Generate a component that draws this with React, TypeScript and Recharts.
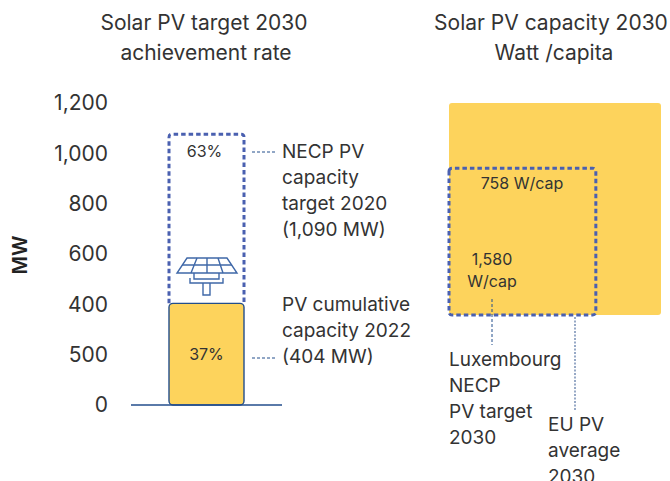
import React from 'react';
import { BarChart, Bar, XAxis, YAxis, LabelList, ComposedChart, ReferenceArea, Rectangle } from 'recharts';

const FONT = 'Inter, sans-serif';
const TEXT = '#333333';
const YELLOW = '#FDD35C';
const NAVY = '#234E8C';
const DASH = '#4A60B0';

const categories = ['Luxembourg'];
const cumulative2022 = [404];
const remainingToTarget = [672];
const shareLabels = ['37%', '63%'];
const yTicks = [0, 200, 400, 600, 800, 1000, 1200];
const yTickLabels = ['0', '500', '400', '600', '800', '1,000', '1,200'];
const targetNote = ['NECP PV', 'capacity', 'target 2020', '(1,090 MW)'];
const cumulativeNote = ['PV cumulative', 'capacity 2022', '(404 MW)'];

// square sides, areas are W/cap
const wattLabels = ['1,580', 'W/cap'];
const euWatt = 1580;
const luWatt = 758;
const luNote = ['Luxembourg', 'NECP', 'PV target', '2030'];
const euNote = ['EU PV', 'average', '2030'];

const data = categories.map((name, i) => ({
  name,
  cumulative: cumulative2022[i],
  remaining: remainingToTarget[i],
}));

function TargetShape(props: any) {
  const { x, y, width, height } = props;
  const r = 3;
  const d = `M${x},${y + height} V${y + r} Q${x},${y} ${x + r},${y} H${x + width - r} Q${x + width},${y} ${x + width},${y + r} V${y + height}`;
  return <path d={d} fill="none" stroke={DASH} strokeWidth={3} strokeDasharray="4.5 3" />;
}

function RoundedSquare(props: any) {
  return <Rectangle {...props} radius={3} />;
}

function Lines({ x, y, lines, step, size = 19 }: { x: number; y: number; lines: string[]; step: number; size?: number }) {
  return (
    <text x={x} y={y} fontFamily={FONT} fontSize={size} fill={TEXT}>
      {lines.map((l, i) => (
        <tspan key={l} x={x} y={y + i * step}>{l}</tspan>
      ))}
    </text>
  );
}

function SolarIcon() {
  const s = { fill: 'none', stroke: '#3F68A8', strokeWidth: 1.4 };
  return (
    <g {...s}>
      <path d="M187,258 H227 L237,273 H177 Z" />
      <path d="M182,265 H232 M197,258 L191,273 M207,258 V273 M218,258 L223,273" />
      <path d="M194,273 V279 H219 V273" />
      <path d="M190,278 V283 H223 V278" />
      <path d="M203,283 V295 H210 V283" />
    </g>
  );
}

export default function App() {
  return (
    <div style={{ position: 'absolute', left: 0, top: 0, width: 670, height: 481, overflow: 'hidden', background: '#fff', fontFamily: FONT }}>
      <div style={{ position: 'absolute', left: 0, top: 0 }}>
        <BarChart width={430} height={481} data={data} margin={{ top: 103, right: 148, bottom: 75, left: 71 }}>
          <XAxis dataKey="name" height={1} tick={false} tickLine={false} axisLine={{ stroke: NAVY, strokeWidth: 1.4 }} />
          <YAxis
            width={60}
            domain={[0, 1200]}
            ticks={yTicks}
            tickFormatter={(v: number) => yTickLabels[yTicks.indexOf(v)]}
            tick={{ fontSize: 21, fill: TEXT, fontFamily: FONT }}
            tickLine={false}
            axisLine={false}
            tickMargin={17}
            interval={0}
          />
          <Bar dataKey="cumulative" stackId="a" barSize={75} fill={YELLOW} stroke={NAVY} strokeWidth={1.4} radius={4} isAnimationActive={false}>
            <LabelList content={(p: any) => (
              <text x={p.x + p.width / 2} y={p.y + p.height / 2 + 6} textAnchor="middle" fontSize={16} fontFamily={FONT} fill={TEXT}>{shareLabels[0]}</text>
            )} />
          </Bar>
          <Bar dataKey="remaining" stackId="a" barSize={75} shape={TargetShape} isAnimationActive={false}>
            <LabelList content={(p: any) => (
              <text x={p.x + p.width / 2 - 2} y={p.y + 23} textAnchor="middle" fontSize={16} fontFamily={FONT} fill={TEXT}>{shareLabels[1]}</text>
            )} />
          </Bar>
          <SolarIcon />
          <text x={27} y={255} transform="rotate(-90 27 255)" textAnchor="middle" fontSize={20} fontWeight={600} fontFamily={FONT} fill="#222">MW</text>
          <text x={204} y={30} textAnchor="middle" fontSize={21} fontFamily={FONT} fill={TEXT}>Solar PV target 2030</text>
          <text x={206} y={60} textAnchor="middle" fontSize={21} fontFamily={FONT} fill={TEXT}>achievement rate</text>
          <line x1={252} x2={276} y1={152} y2={152} stroke={NAVY} strokeWidth={1} strokeDasharray="3 2" />
          <line x1={252} x2={276} y1={358} y2={358} stroke={NAVY} strokeWidth={1} strokeDasharray="3 2" />
          <Lines x={282} y={158} lines={targetNote} step={26} />
          <Lines x={282} y={311} lines={cumulativeNote} step={26} />
        </BarChart>
      </div>
      <div style={{ position: 'absolute', left: 400, top: 0 }}>
        <ComposedChart width={270} height={481} margin={{ top: 103, right: 9, bottom: 166, left: 49 }}>
          <XAxis type="number" dataKey="x" hide domain={[0, Math.sqrt(euWatt)]} allowDataOverflow />
          <YAxis type="number" dataKey="y" hide domain={[0, Math.sqrt(euWatt)]} allowDataOverflow />
          <ReferenceArea x1={0} x2={Math.sqrt(euWatt)} y1={0} y2={Math.sqrt(euWatt)} fill={YELLOW} fillOpacity={1} stroke="none" shape={RoundedSquare} ifOverflow="visible" />
          <ReferenceArea x1={0} x2={Math.sqrt(luWatt)} y1={0} y2={Math.sqrt(luWatt)} fill="none" fillOpacity={0} stroke={DASH} strokeWidth={3} strokeDasharray="4.5 3" shape={RoundedSquare} ifOverflow="visible" />
          <text x={151} y={30} textAnchor="middle" fontSize={21} fontFamily={FONT} fill={TEXT}>Solar PV capacity 2030</text>
          <text x={154} y={60} textAnchor="middle" fontSize={21} fontFamily={FONT} fill={TEXT}>Watt /capita</text>
          <line x1={175} x2={175} y1={317} y2={410} stroke="#6C85AE" strokeWidth={1.4} strokeDasharray="2 1.5" />
          <Lines x={49} y={366} lines={luNote} step={26} />
          <Lines x={148} y={431} lines={euNote} step={26} />
        </ComposedChart>
      </div>
      {/* reference areas paint above the chart's own children, so these sit in a layer on top */}
      <svg width={270} height={481} style={{ position: 'absolute', left: 400, top: 0, pointerEvents: 'none' }}>
        <text x={122} y={189} textAnchor="middle" fontSize={16} fontFamily={FONT} fill={TEXT}>758 W/cap</text>
        <text x={92} y={265} textAnchor="middle" fontSize={16} fontFamily={FONT} fill={TEXT}>{wattLabels[0]}</text>
        <text x={92} y={287} textAnchor="middle" fontSize={16} fontFamily={FONT} fill={TEXT}>{wattLabels[1]}</text>
        <line x1={92} x2={92} y1={299} y2={345} stroke={NAVY} strokeWidth={1} strokeDasharray="3 2" />
      </svg>
    </div>
  );
}
